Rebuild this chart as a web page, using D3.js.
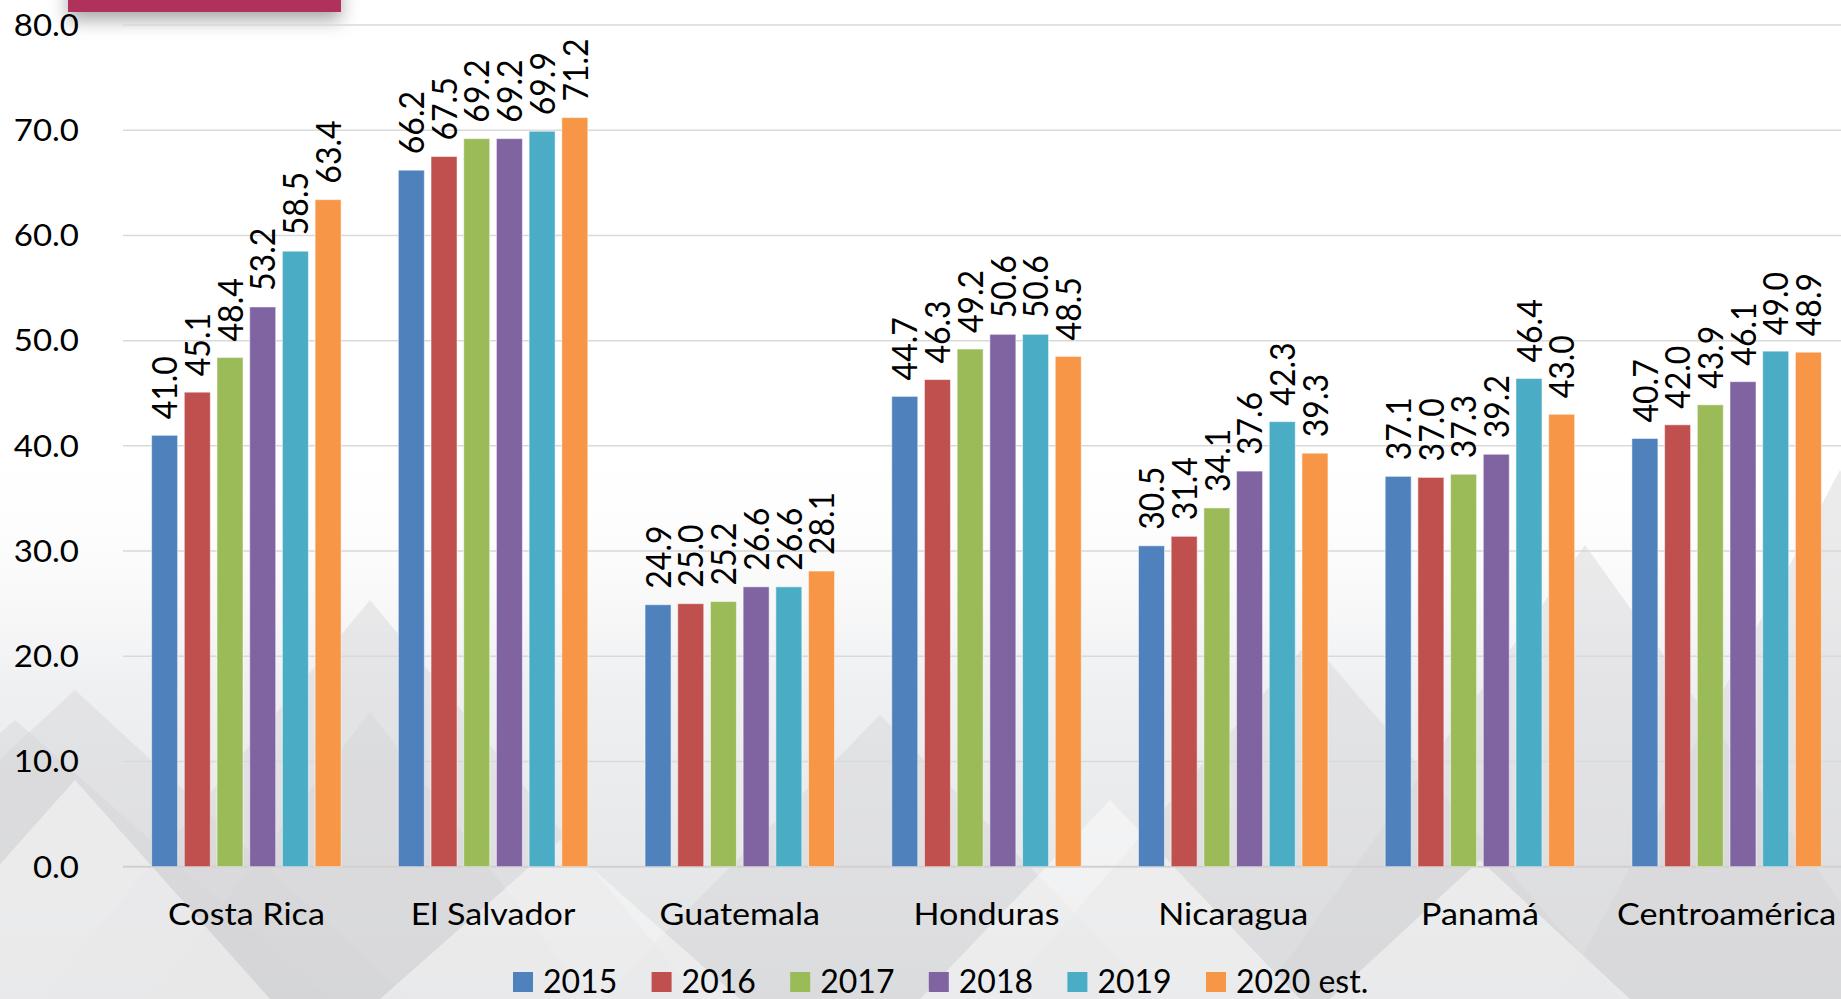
<!DOCTYPE html>
<html>
<head>
<meta charset="utf-8">
<script src="https://cdn.jsdelivr.net/npm/d3@7"></script>
<style>
  body { margin: 0; background: #fff; overflow: hidden; }
  text { font-family: Lato, "Open Sans", sans-serif; fill: #000; }
</style>
</head>
<body>
<svg id="chart" width="1841" height="999"></svg>
<script>
// data
const countries = ["Costa Rica", "El Salvador", "Guatemala", "Honduras", "Nicaragua", "Panamá", "Centroamérica"];
const years = ["2015", "2016", "2017", "2018", "2019", "2020 est."];
const v2015 = [41.0, 66.2, 24.9, 44.7, 30.5, 37.1, 40.7];
const v2016 = [45.1, 67.5, 25.0, 46.3, 31.4, 37.0, 42.0];
const v2017 = [48.4, 69.2, 25.2, 49.2, 34.1, 37.3, 43.9];
const v2018 = [53.2, 69.2, 26.6, 50.6, 37.6, 39.2, 46.1];
const v2019 = [58.5, 69.9, 26.6, 50.6, 42.3, 46.4, 49.0];
const v2020 = [63.4, 71.2, 28.1, 48.5, 39.3, 43.0, 48.9];
const yTicks = [0, 10, 20, 30, 40, 50, 60, 70, 80];
const colors = ["#4F81BD", "#C0504D", "#9BBB59", "#8064A2", "#4BACC6", "#F79646"];

const series = [v2015, v2016, v2017, v2018, v2019, v2020];

const W = 1841, H = 999;
const svg = d3.select("#chart");
const defs = svg.append("defs");

// ---- background: white top, grey mountains lower down
const grad = defs.append("linearGradient").attr("id", "bgGrad")
  .attr("x1", 0).attr("y1", 0).attr("x2", 0).attr("y2", 1);
grad.append("stop").attr("offset", "0%").attr("stop-color", "#ffffff").attr("stop-opacity", 0);
grad.append("stop").attr("offset", "45%").attr("stop-color", "#ebecee").attr("stop-opacity", 0.8);
grad.append("stop").attr("offset", "100%").attr("stop-color", "#e0e1e3").attr("stop-opacity", 1);

svg.append("rect").attr("width", W).attr("height", H).attr("fill", "#fff");

const bg = svg.append("g").attr("class", "bg");
bg.append("rect").attr("x", 0).attr("y", 430).attr("width", W).attr("height", H - 430)
  .attr("fill", "url(#bgGrad)");

// decorative triangles (not data)
const darkTris = [
  [[75, 690], [-260, 999], [410, 999]],
  [[15, 720], [-300, 999], [330, 999]],
  [[370, 600], [40, 999], [700, 999]],
  [[370, 712], [150, 999], [590, 999]],
  [[880, 715], [600, 999], [1160, 999]],
  [[1310, 640], [1000, 999], [1620, 999]],
  [[1585, 545], [1260, 999], [1910, 999]],
  [[1840, 470], [1560, 999], [2100, 999]]
];
const lightTris = [
  [[75, 780], [-120, 999], [270, 999]],
  [[560, 840], [380, 999], [740, 999]],
  [[1110, 800], [920, 999], [1300, 999]],
  [[1480, 860], [1330, 999], [1630, 999]]
];
bg.selectAll(".dark").data(darkTris).join("polygon")
  .attr("points", d => d.map(p => p.join(",")).join(" "))
  .attr("fill", "#d4d5d8").attr("opacity", 0.45);
bg.selectAll(".light").data(lightTris).join("polygon")
  .attr("points", d => d.map(p => p.join(",")).join(" "))
  .attr("fill", "#ffffff").attr("opacity", 0.45);

// title bar remnant at the top, with its shadow
const shadow = defs.append("filter").attr("id", "shadow")
  .attr("x", "-20%").attr("y", "-50%").attr("width", "140%").attr("height", "400%");
shadow.append("feDropShadow").attr("dx", 0).attr("dy", 8).attr("stdDeviation", 9)
  .attr("flood-color", "#000").attr("flood-opacity", 0.35);
svg.append("rect").attr("x", 68).attr("y", -20).attr("width", 273).attr("height", 32)
  .attr("fill", "#B0305B").attr("filter", "url(#shadow)");

// ---- scales
const x0 = d3.scaleBand().domain(countries).range([123, 1850])
  .paddingInner(0.232).paddingOuter(0.116);
const x1 = d3.scaleBand().domain(years).range([0, x0.bandwidth()]).paddingInner(0.205);
const y = d3.scaleLinear().domain([0, 80]).range([866.7, 25]);

// gridlines
svg.append("g").attr("class", "grid")
  .selectAll("line").data(yTicks).join("line")
  .attr("x1", 123).attr("x2", W)
  .attr("y1", d => y(d)).attr("y2", d => y(d))
  .attr("stroke", d => d === 0 ? "#d0d0d0" : "#d9d9d9")
  .attr("stroke-width", d => d === 0 ? 2 : 1.5);

// y tick labels
svg.append("g").attr("class", "yaxis")
  .selectAll("text").data(yTicks).join("text")
  .attr("transform", d => `translate(79,${y(d)}) scale(1.1,1)`)
  .attr("text-anchor", "end")
  .attr("dy", "0.36em")
  .attr("font-size", 30)
  .text(d => d3.format(".1f")(d));

// bars
const groups = svg.append("g").attr("class", "bars")
  .selectAll("g").data(countries).join("g")
  .attr("transform", d => `translate(${x0(d)},0)`);

groups.selectAll("rect")
  .data((c, ci) => years.map((yr, si) => ({ yr, si, v: series[si][ci] })))
  .join("rect")
  .attr("x", d => x1(d.yr))
  .attr("y", d => y(d.v))
  .attr("width", x1.bandwidth())
  .attr("height", d => y(0) - y(d.v))
  .attr("fill", d => colors[d.si])
  .attr("stroke", "#ffffff").attr("stroke-opacity", 0.5).attr("stroke-width", 1);

// data labels, rotated
groups.selectAll("text")
  .data((c, ci) => years.map((yr, si) => ({ yr, si, v: series[si][ci] })))
  .join("text")
  .attr("transform", d => `translate(${x1(d.yr) + x1.bandwidth() / 2},${y(d.v) - 16}) scale(1.1,1) rotate(-90)`)
  .attr("dy", "0.36em")
  .attr("font-size", 32)
  .text(d => d3.format(".1f")(d.v));

// category labels
svg.append("g").attr("class", "xaxis")
  .selectAll("text").data(countries).join("text")
  .attr("transform", d => `translate(${x0(d) + x0.bandwidth() / 2},925) scale(1.1,1)`)
  .attr("text-anchor", "middle")
  .attr("font-size", 31)
  .text(d => d);

// legend
const legend = svg.append("g").attr("class", "legend")
  .selectAll("g").data(years).join("g")
  .attr("transform", (d, i) => `translate(${513 + i * 138.6},972)`);
legend.append("rect").attr("width", 20).attr("height", 20)
  .attr("fill", (d, i) => colors[i]);
legend.append("text").attr("x", 30).attr("y", 21)
  .attr("font-size", 32)
  .text(d => d);
</script>
</body>
</html>
